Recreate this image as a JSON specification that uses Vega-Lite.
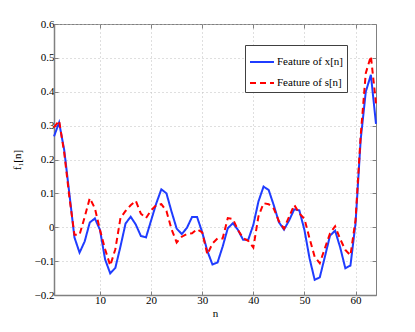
{
  "$schema": "https://vega.github.io/schema/vega-lite/v6.json",
  "autosize": {"type": "none"},
  "padding": {"left": 54, "top": 24, "right": 39, "bottom": 37},
  "width": 322,
  "height": 271,
  "background": "white",
  "config": {
    "view": {"stroke": "#808080", "strokeWidth": 1},
    "font": "Liberation Serif",
    "axis": {
      "labelFont": "Liberation Serif",
      "titleFont": "Liberation Serif",
      "labelFontSize": 11,
      "titleFontSize": 11,
      "labelColor": "#000",
      "titleColor": "#000",
      "titleFontWeight": "normal",
      "domainColor": "#808080",
      "domainWidth": 1.5,
      "tickColor": "#808080",
      "tickSize": -4,
      "gridColor": "#bfbfbf",
      "gridDash": [1, 3],
      "gridWidth": 1
    }
  },
  "data": {
    "values": [
      {"n":1,"x":0.268,"s":0.295},{"n":2,"x":0.309,"s":0.315},{"n":3,"x":0.228,"s":0.22},{"n":4,"x":0.10,"s":0.09},
      {"n":5,"x":-0.03,"s":-0.022},{"n":6,"x":-0.075,"s":-0.022},{"n":7,"x":-0.042,"s":0.03},{"n":8,"x":0.014,"s":0.086},
      {"n":9,"x":0.026,"s":0.056},{"n":10,"x":-0.008,"s":-0.008},{"n":11,"x":-0.095,"s":-0.065},{"n":12,"x":-0.136,"s":-0.113},
      {"n":13,"x":-0.12,"s":-0.065},{"n":14,"x":-0.057,"s":0.027},{"n":15,"x":0.011,"s":0.048},{"n":16,"x":0.031,"s":0.065},
      {"n":17,"x":0.008,"s":0.078},{"n":18,"x":-0.026,"s":0.04},{"n":19,"x":-0.03,"s":0.027},{"n":20,"x":0.02,"s":0.05},
      {"n":21,"x":0.07,"s":0.065},{"n":22,"x":0.112,"s":0.068},{"n":23,"x":0.10,"s":0.048},{"n":24,"x":0.046,"s":-0.006},
      {"n":25,"x":-0.004,"s":-0.045},{"n":26,"x":-0.02,"s":-0.028},{"n":27,"x":-0.002,"s":-0.02},{"n":28,"x":0.03,"s":-0.018},
      {"n":29,"x":0.03,"s":-0.006},{"n":30,"x":-0.015,"s":-0.015},{"n":31,"x":-0.07,"s":-0.08},{"n":32,"x":-0.11,"s":-0.048},
      {"n":33,"x":-0.104,"s":-0.033},{"n":34,"x":-0.057,"s":-0.033},{"n":35,"x":-0.003,"s":0.027},{"n":36,"x":0.012,"s":0.024},
      {"n":37,"x":-0.008,"s":-0.008},{"n":38,"x":-0.037,"s":-0.032},{"n":39,"x":-0.037,"s":-0.04},{"n":40,"x":0.007,"s":-0.06},
      {"n":41,"x":0.076,"s":0.032},{"n":42,"x":0.12,"s":0.071},{"n":43,"x":0.11,"s":0.068},{"n":44,"x":0.065,"s":0.055},
      {"n":45,"x":0.015,"s":0.018},{"n":46,"x":-0.007,"s":-0.004},{"n":47,"x":0.02,"s":0.031},{"n":48,"x":0.053,"s":0.066},
      {"n":49,"x":0.05,"s":0.041},{"n":50,"x":-0.008,"s":0.025},{"n":51,"x":-0.092,"s":-0.033},{"n":52,"x":-0.155,"s":-0.087},
      {"n":53,"x":-0.148,"s":-0.106},{"n":54,"x":-0.087,"s":-0.062},{"n":55,"x":-0.025,"s":-0.018},{"n":56,"x":-0.01,"s":0.003},
      {"n":57,"x":-0.06,"s":-0.035},{"n":58,"x":-0.121,"s":-0.067},{"n":59,"x":-0.113,"s":-0.083},{"n":60,"x":0.012,"s":0.022},
      {"n":61,"x":0.258,"s":0.27},{"n":62,"x":0.40,"s":0.455},{"n":63,"x":0.45,"s":0.505},{"n":64,"x":0.305,"s":0.366}
    ]
  },
  "transform": [
    {"fold": ["x", "s"], "as": ["key", "value"]},
    {"lookup": "key", "from": {"data": {"values": [{"key": "x", "series": "Feature of x[n]", "ord": 0}, {"key": "s", "series": "Feature of s[n]", "ord": 1}]}, "key": "key", "fields": ["series", "ord"]}}
  ],
  "layer": [
    {
      "mark": {"type": "line", "strokeWidth": 2},
      "encoding": {
        "x": {"field": "n", "type": "quantitative", "scale": {"domain": [1, 64], "nice": false, "zero": false},
              "axis": {"values": [10, 20, 30, 40, 50, 60], "title": "n", "labelPadding": 3, "titlePadding": 2}},
        "y": {"field": "value", "type": "quantitative", "scale": {"domain": [-0.2, 0.6], "nice": false},
              "axis": {"values": [-0.2, -0.1, 0, 0.1, 0.2, 0.3, 0.4, 0.5, 0.6], "format": "~g", "title": "f₁[n]", "labelPadding": 4, "titlePadding": 12}},
        "color": {"field": "series", "type": "nominal",
                  "scale": {"domain": ["Feature of x[n]", "Feature of s[n]"], "range": ["#1f3cff", "#ff0000"]},
                  "legend": {"orient": "none", "legendX": 191, "legendY": 21, "title": null,
                             "strokeColor": "#404040", "fillColor": "white", "padding": 4,
                             "labelFont": "Liberation Serif", "labelFontSize": 11, "labelColor": "#000",
                             "symbolType": "stroke", "symbolSize": 576, "symbolStrokeWidth": 2,
                             "rowPadding": 3, "labelOffset": 2}},
        "strokeDash": {"field": "series", "type": "nominal",
                       "scale": {"domain": ["Feature of x[n]", "Feature of s[n]"], "range": [[1, 0], [6, 4]]}},
        "order": {"field": "ord"}
      }
    },
    {
      "mark": {"type": "line", "opacity": 0},
      "encoding": {
        "x": {"field": "n", "type": "quantitative", "axis": {"orient": "top", "values": [10, 20, 30, 40, 50, 60], "labels": false, "title": null, "grid": false, "domain": false}},
        "y": {"field": "value", "type": "quantitative", "axis": {"orient": "right", "values": [-0.2, -0.1, 0, 0.1, 0.2, 0.3, 0.4, 0.5, 0.6], "labels": false, "title": null, "grid": false, "domain": false}},
        "detail": {"field": "key"}
      }
    }
  ],
  "resolve": {"axis": {"x": "independent", "y": "independent"}}
}
